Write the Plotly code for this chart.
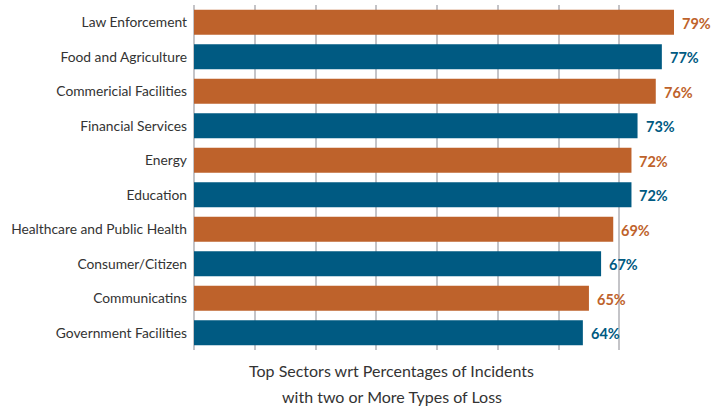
import plotly.graph_objects as go

categories = ["Law Enforcement", "Food and Agriculture", "Commericial Facilities",
              "Financial Services", "Energy", "Education", "Healthcare and Public Health",
              "Consumer/Citizen", "Communicatins", "Government Facilities"]
values = [79, 77, 76, 73, 72, 72, 69, 67, 65, 64]
labels = ["79%", "77%", "76%", "73%", "72%", "72%", "69%", "67%", "65%", "64%"]
title_lines = ["Top Sectors wrt Percentages of Incidents", "with two or More Types of Loss"]

ORANGE = "#BE622B"
BLUE = "#005A82"
colors = [ORANGE if i % 2 == 0 else BLUE for i in range(len(categories))]

fig = go.Figure()
fig.add_trace(go.Bar(
    y=categories, x=values, orientation="h",
    marker=dict(color=colors, line=dict(width=0)),
    width=0.72, cliponaxis=False, hoverinfo="skip",
))

for c, v, t, col in zip(categories, values, labels, colors):
    fig.add_annotation(x=v, y=c, text="<b>%s</b>" % t, showarrow=False,
                       xanchor="left", xshift=6, yshift=-1,
                       font=dict(family="Lato", size=14.5, color=col))

for line, yp in zip(title_lines, [-0.060, -0.136]):
    fig.add_annotation(xref="paper", yref="paper", x=0.412, y=yp, yanchor="middle",
                       text=line, showarrow=False, align="center",
                       font=dict(family="Lato", size=16, color="#333333"))

fig.update_layout(
    width=728, height=409,
    margin=dict(l=194, r=54, t=5, b=59),
    plot_bgcolor="white", paper_bgcolor="white",
    showlegend=False,
    bargap=0.28,
    font=dict(family="Lato", size=13.5, color="#333333"),
    xaxis=dict(range=[0, 79], dtick=10, tick0=0, showgrid=True, gridcolor="#C4C4C8",
               gridwidth=1.5, showticklabels=False, zeroline=True, zerolinecolor="#C4C4C8",
               zerolinewidth=2, showline=False, fixedrange=True, automargin=False),
    yaxis=dict(categoryorder="array", categoryarray=categories[::-1], automargin=False,
               showgrid=False, ticks="", ticklabelstandoff=6, zeroline=False, showline=False,
               fixedrange=True, tickfont=dict(family="Lato", size=13.8, color="#333333")),
)

fig.write_html("out.html", config={"displayModeBar": False},
               post_script="document.body.style.margin='0';document.body.style.overflow='hidden';")
